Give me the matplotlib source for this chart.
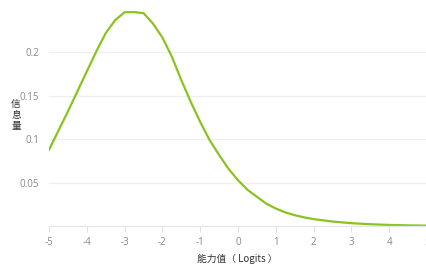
import matplotlib
matplotlib.use("Agg")
import matplotlib.pyplot as plt

ability = [-5, -4.75, -4.5, -4.25, -4, -3.75, -3.5, -3.25, -3, -2.75, -2.5, -2.25,
           -2, -1.75, -1.5, -1.25, -1, -0.75, -0.5, -0.25, 0, 0.25, 0.5, 0.75,
           1, 1.25, 1.5, 1.75, 2, 2.5, 3, 3.5, 4, 4.5, 5]
information = [0.088, 0.110, 0.132, 0.155, 0.178, 0.201, 0.222, 0.237, 0.246, 0.2462, 0.245, 0.233,
               0.217, 0.195, 0.168, 0.143, 0.120, 0.099, 0.082, 0.066, 0.053, 0.042, 0.034, 0.026,
               0.0205, 0.016, 0.0128, 0.0103, 0.0083, 0.0055, 0.0036, 0.0024, 0.0016, 0.0011, 0.0008]
xticks = [-5, -4, -3, -2, -1, 0, 1, 2, 3, 4, 5]
yticks = [0.05, 0.1, 0.15, 0.2]
ytick_labels = ["0.05", "0.1", "0.15", "0.2"]
ylabel_chars = ["信", "息", "量"]

plt.rcParams['font.family'] = ['Open Sans', 'Noto Sans CJK TC', 'DejaVu Sans']

fig = plt.figure(figsize=(4.27, 2.75), dpi=100)
ax = fig.add_axes([0.1148, 0.177, 0.8852, 0.791])
ax.plot(ability, information, color='#8cc220', lw=1.6, solid_joinstyle='round')
ax.set_xlim(-5, 5)
ax.set_ylim(0, 0.25)
ax.set_xticks(xticks)
ax.set_xticklabels([str(t) for t in xticks])
ax.set_yticks(yticks)
ax.set_yticklabels(ytick_labels)
ax.grid(axis='y', color='#efefef', lw=0.9)
ax.set_axisbelow(True)
for s in ['top', 'right', 'left']:
    ax.spines[s].set_visible(False)
ax.spines['bottom'].set_color('#e6e6e6')
ax.spines['bottom'].set_linewidth(0.9)
ax.tick_params(axis='x', colors='#e0e0e0', length=4, width=0.8, labelcolor='#888888', labelsize=7, pad=4)
ax.tick_params(axis='y', length=0, labelcolor='#888888', labelsize=7, pad=7)

fig.text(237 / 427, 1 - 259 / 275, "能力值（ Logits ）", ha='center', va='center',
         fontsize=7, color='#333333', family=['Noto Sans CJK TC', 'DejaVu Sans'])
for i, ch in enumerate(ylabel_chars):
    fig.text(16 / 427, 1 - (104 + 11 * i) / 275, ch, ha='center', va='center',
             fontsize=7, color='#333333', family=['Noto Sans CJK TC', 'DejaVu Sans'])

fig.savefig("out.png", dpi=100)
